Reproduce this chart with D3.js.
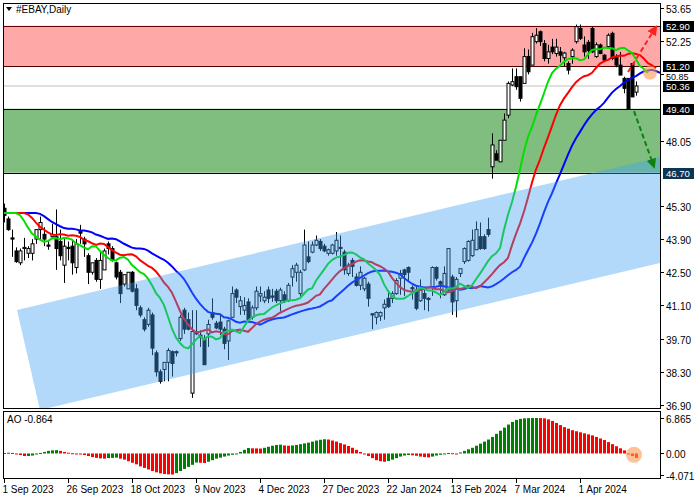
<!DOCTYPE html>
<html><head><meta charset="utf-8">
<script src="https://cdn.jsdelivr.net/npm/d3@7"></script>
<style>body{margin:0;background:#fff}svg{display:block}text{font-family:"Liberation Sans",Arial,sans-serif}</style>
</head><body><svg id="c" width="700" height="500"></svg>
<script>
// OHLC per daily bar (1 Sep 2023 .. 19 Apr 2024)
const opens = [45.2,44.75,43.95,43.4,42.9,43.5,43.3,43.3,43.9,44.3,44.1,43.65,44.0,44.0,43.8,42.8,43.55,43.6,42.7,44.25,43.9,43.2,42.5,43.0,42.2,42.6,43.7,43.5,42.9,42.5,42.0,41.8,42.5,41.8,41.0,40.5,40.3,40.7,39.1,38.3,38.4,38.7,39.15,39.15,39.7,40.9,40.5,37.4,39.95,39.85,39.7,39.9,40.8,40.35,40.4,40.1,39.6,40.6,41.75,41.05,40.9,41.25,40.6,41.0,41.5,41.3,41.75,41.5,41.7,41.3,41.55,41.3,42.3,42.5,41.6,42.6,43.15,43.35,43.65,43.8,43.6,43.3,43.3,43.4,43.55,43.35,42.45,43.0,42.3,41.95,41.8,42.0,40.75,40.6,40.65,41.0,41.4,41.4,41.6,42.25,42.6,42.7,41.85,41.75,41.3,41.6,41.4,41.9,42.7,42.1,41.55,41.75,42.3,41.3,42.45,42.95,43.0,43.2,43.45,44.0,44.0,44.3,46.95,47.5,47.16,48.07,49.13,50.4,50.75,50.75,50.47,51.6,51.24,52.23,52.65,52.15,51.52,52.0,51.73,51.8,51.55,51.31,51.6,52.23,52.79,52.09,52.2,52.79,51.6,52.09,51.66,52.02,52.58,51.6,51.24,50.68,50.68,51.31,50.1];
const highs = [45.4,44.85,44.3,43.55,43.5,43.95,43.6,43.9,44.2,44.85,44.4,43.85,44.55,45.15,44.3,43.95,43.8,43.9,43.9,44.5,44.0,43.3,42.65,43.1,43.4,43.5,43.8,43.6,42.95,42.6,42.2,42.0,42.55,42.0,41.1,40.6,41.0,40.8,39.2,38.4,38.6,39.3,39.2,39.2,40.7,41.0,40.8,40.9,40.9,40.05,39.85,40.5,41.4,40.45,40.7,40.2,40.5,41.9,41.82,41.5,41.45,41.4,41.1,41.9,41.9,41.7,41.9,41.8,41.8,41.85,41.7,42.05,42.8,42.9,42.6,44.3,43.8,43.8,44.05,43.9,43.7,43.5,43.7,44.2,44.05,43.45,42.9,43.1,42.45,42.75,42.3,42.1,40.75,40.85,40.85,41.35,41.75,41.7,42.25,42.6,42.65,42.75,41.95,41.9,42.2,41.75,41.45,42.75,42.75,42.15,42.75,43.5,42.4,42.3,42.6,43.55,43.85,44.3,44.65,44.6,44.1,44.8,48.36,47.65,48.07,49.2,50.55,51.1,51.1,50.75,51.95,51.9,52.6,52.8,52.7,52.3,52.1,52.35,52.35,52.0,51.8,51.4,51.95,52.95,52.95,52.45,52.3,52.85,52.2,52.15,51.7,52.58,52.65,51.7,51.8,50.75,50.68,51.31,50.55];
const lows = [44.6,44.25,43.15,42.9,42.8,43.0,43.1,43.0,43.7,43.9,43.6,43.45,43.9,42.6,43.0,42.05,43.0,42.4,42.45,43.7,43.15,42.0,42.4,42.1,41.8,42.6,43.25,42.95,42.2,41.2,41.9,41.8,41.65,40.9,40.6,40.0,40.2,39.0,38.1,37.8,37.9,37.9,38.1,38.95,39.6,39.9,40.05,37.2,39.85,39.35,38.6,39.35,40.5,40.1,39.85,39.25,38.8,40.6,41.2,40.7,40.7,40.4,40.5,40.9,41.25,41.2,41.2,41.25,41.2,40.85,41.2,41.25,41.9,42.1,41.4,42.55,42.88,43.3,43.6,43.4,43.35,43.2,43.25,43.2,42.75,42.4,42.35,42.3,41.9,41.75,41.7,41.05,40.1,40.3,40.45,40.5,41.0,41.2,41.55,41.55,41.5,42.1,41.35,40.9,41.25,40.9,40.85,41.5,42.15,41.4,41.5,41.7,40.7,40.6,42.3,42.85,42.95,43.15,43.45,43.45,43.45,44.0,46.45,47.23,47.16,48.07,49.0,50.35,50.2,49.7,50.47,50.85,51.24,52.15,52.05,51.4,51.3,51.7,51.6,51.35,51.2,50.85,51.3,52.15,52.3,51.6,51.5,51.75,51.55,51.7,51.4,51.95,51.45,51.15,50.85,50.05,49.4,49.89,49.95];
const closes = [44.9,44.3,43.9,42.95,43.4,43.55,43.5,43.7,44.3,44.6,43.9,43.6,44.1,43.5,43.2,43.6,43.5,42.9,43.7,44.15,43.7,42.5,42.9,42.2,43.0,43.4,43.5,43.0,42.3,41.6,42.4,42.5,41.7,41.1,40.7,40.1,40.9,39.3,38.3,37.9,38.7,39.2,38.65,39.1,40.6,40.1,40.1,40.0,39.9,39.75,38.6,40.3,40.6,40.15,40.1,39.5,40.45,41.6,41.45,41.3,41.1,40.5,41.0,41.7,41.6,41.45,41.4,41.45,41.3,41.75,41.3,41.95,42.65,42.8,42.5,43.65,42.95,43.65,43.85,43.5,43.4,43.45,43.65,43.85,43.5,42.6,42.8,42.75,41.95,42.5,42.25,41.4,40.7,40.8,40.8,41.15,41.05,41.6,42.15,42.45,42.4,42.5,41.8,40.98,41.75,41.4,41.35,42.7,42.25,42.0,42.45,43.5,41.25,42.2,42.65,43.5,43.8,43.85,44.3,43.5,43.5,44.1,47.87,47.23,48.07,48.92,50.47,50.54,50.33,49.84,51.6,50.96,52.44,52.5,52.23,51.52,51.8,51.8,52.0,51.66,51.75,51.03,51.87,52.86,52.37,51.8,51.85,51.8,52.1,51.73,51.45,52.5,51.52,51.24,50.82,50.26,49.4,49.9,50.36];
const aoValues = [0.1,0.15,0.1,-0.1,-0.3,-0.5,-0.5,-0.4,-0.2,0.1,0.3,0.5,0.6,0.65,0.5,0.3,0.15,0.05,-0.1,-0.2,-0.3,-0.5,-0.7,-0.85,-0.95,-1.0,-0.9,-0.85,-0.8,-1.0,-1.2,-1.5,-1.8,-2.1,-2.5,-2.8,-3.1,-3.4,-3.65,-3.85,-3.98,-4.05,-4.071,-3.8,-3.4,-3.0,-2.6,-2.2,-1.75,-1.8,-1.85,-1.6,-1.3,-1.0,-0.8,-0.6,-0.4,-0.25,-0.1,0.3,0.7,1.05,1.0,0.98,0.95,1.1,1.3,1.5,1.65,1.7,1.55,1.5,1.55,1.65,1.8,1.95,2.1,2.3,2.5,2.65,2.75,2.7,2.5,2.3,2.0,1.75,1.45,1.1,0.7,0.3,-0.1,-0.5,-0.9,-1.3,-1.5,-1.6,-1.45,-1.2,-0.9,-0.6,-0.4,-0.3,-0.35,-0.45,-0.6,-0.7,-0.75,-0.6,-0.4,-0.25,-0.1,0.1,0.05,-0.1,0.2,0.5,0.8,1.1,1.5,1.9,2.3,2.7,3.2,3.8,4.4,5.0,5.6,6.1,6.5,6.7,6.8,6.84,6.86,6.865,6.85,6.8,6.6,6.3,5.9,5.5,5.1,4.8,4.5,4.3,4.1,3.9,3.7,3.5,3.2,2.9,2.6,2.2,1.8,1.4,1.0,0.6,-0.2,-0.5,-0.864];
const dateTicks = [[0,"1 Sep 2023"],[16,"26 Sep 2023"],[32,"18 Oct 2023"],[48,"9 Nov 2023"],[64,"4 Dec 2023"],[80,"27 Dec 2023"],[96,"22 Jan 2024"],[112,"13 Feb 2024"],[128,"7 Mar 2024"],[144,"1 Apr 2024"]];
const priceTicks = [53.65,52.25,50.85,48.05,45.30,43.90,42.50,41.10,39.70,38.30,36.90];
const levelTicks = [52.90,51.20,50.36,49.40,46.70];
const aoTicks = [6.865,0.00,-4.071];
const resistZone = [52.90,51.20];
const supportZone = [49.40,46.70];
const channel = [[3.25,40.91],[170,47.6],[170,43.13],[9,36.69]];

const svg = d3.select("#c");
const N = closes.length;
const L=3, R=660, T=3, B=408, AT=411, AB=478;
const x = d3.scaleLinear().domain([0,1]).range([4,8]);
const y = d3.scaleLinear().domain([36.90,53.65]).range([405,8]);
const ya = d3.scaleLinear().domain([-4.071,6.865]).range([474.5,418]);

svg.append("defs").append("clipPath").attr("id","cp").append("rect").attr("x",L).attr("y",T).attr("width",R-L).attr("height",B-T);
svg.append("defs").append("clipPath").attr("id","ca").append("rect").attr("x",L).attr("y",AT).attr("width",R-L).attr("height",AB-AT);
const g = svg.append("g").attr("clip-path","url(#cp)");

// zones
g.append("rect").attr("x",L).attr("width",R-L).attr("y",y(resistZone[0])).attr("height",y(resistZone[1])-y(resistZone[0])).attr("fill","#ffa8a8");
g.append("rect").attr("x",L).attr("width",R-L).attr("y",y(supportZone[0])).attr("height",y(supportZone[1])-y(supportZone[0])).attr("fill","#80be80");
g.append("line").attr("x1",L).attr("x2",R).attr("y1",y(50.36)).attr("y2",y(50.36)).attr("stroke","#c0c0c0");
[[52.90,"#600000"],[51.20,"#500000"],[49.40,"#000"],[46.70,"#000"]].forEach(([v,c])=>g.append("line").attr("x1",L).attr("x2",R).attr("y1",Math.round(y(v))+.5).attr("y2",Math.round(y(v))+.5).attr("stroke",c));

// candles
const cg = g.append("g");
for(let i=0;i<N;i++){
  const xi=Math.round(x(i))+.5, o=opens[i], c=closes[i];
  cg.append("line").attr("x1",xi).attr("x2",xi).attr("y1",y(highs[i])).attr("y2",y(lows[i])).attr("stroke","#000");
  const top=y(Math.max(o,c)), h=Math.max(1,Math.abs(y(o)-y(c)));
  cg.append("rect").attr("x",xi-1.5).attr("width",3).attr("y",top).attr("height",h)
    .attr("fill",c>=o?"#fff":"#000").attr("stroke","#000").attr("stroke-width",1);
}

// alligator (SMMA of median price, shifted)
const med = d3.range(N).map(i=>(highs[i]+lows[i])/2);
function smma(p){const r=[];let s=med[0];for(let i=0;i<N;i++){s=i===0?med[0]:(s*(p-1)+med[i])/p;r.push(s);}return r;}
[[13,8,"#0000ff"],[8,5,"#ff0000"],[5,3,"#00e000"]].forEach(([p,sh,col])=>{
  const s=smma(p);
  const pts=d3.range(N+sh).map(j=>[x(j),y(s[Math.max(0,j-sh)])]);
  g.append("path").attr("d",d3.line()(pts)).attr("fill","none").attr("stroke",col).attr("stroke-width",2);
});

// channel overlay
g.append("path").attr("d",d3.line()(channel.map(d=>[x(d[0]),y(d[1])]))+"Z").attr("fill","#3ea0f2").attr("opacity",0.4);

// annotations
g.append("circle").attr("cx",x(161.5)).attr("cy",y(50.92)).attr("r",7).attr("fill","#ff9a50").attr("opacity",0.6);
const defs=svg.append("defs");
[["ar","#ff2020"],["ag","#108010"]].forEach(([id,c])=>defs.append("marker").attr("id",id).attr("viewBox","0 0 10 10").attr("refX",8).attr("refY",5).attr("markerWidth",5).attr("markerHeight",5).attr("orient","auto").append("path").attr("d","M0,0L10,5L0,10Z").attr("fill",c));
svg.append("line").attr("x1",x(156)).attr("y1",y(50.95)).attr("x2",x(163)).attr("y2",y(52.85)).attr("stroke","#ff2020").attr("stroke-width",2).attr("stroke-dasharray","5,3").attr("marker-end","url(#ar)");
svg.append("line").attr("x1",x(157.5)).attr("y1",y(49.3)).attr("x2",x(162.5)).attr("y2",y(46.95)).attr("stroke","#108010").attr("stroke-width",2).attr("stroke-dasharray","5,3").attr("marker-end","url(#ag)");

// AO
const ag=svg.append("g").attr("clip-path","url(#ca)");
aoValues.forEach((v,i)=>{
  const up = i===0 || v>=aoValues[i-1];
  ag.append("rect").attr("x",Math.round(x(i))-1).attr("width",3).attr("y",Math.min(ya(v),ya(0))).attr("height",Math.max(1,Math.abs(ya(v)-ya(0)))).attr("fill",up?"#008000":"#ff0000");
});
ag.append("circle").attr("cx",x(157.5)).attr("cy",ya(-0.25)).attr("r",8).attr("fill","#ff9a50").attr("opacity",0.6);

// frames
svg.append("rect").attr("x",L+.5).attr("y",T+.5).attr("width",R-L).attr("height",B-T).attr("fill","none").attr("stroke","#000");
svg.append("rect").attr("x",L+.5).attr("y",AT+.5).attr("width",R-L).attr("height",AB-AT).attr("fill","none").attr("stroke","#000");

// price axis
priceTicks.forEach(v=>{
  const yy=Math.round(y(v))+.5;
  svg.append("line").attr("x1",R).attr("x2",R+4).attr("y1",yy).attr("y2",yy).attr("stroke","#000");
  svg.append("text").attr("x",666).attr("y",yy+(v===50.85?5:4)).attr("font-size",v===50.85?9:10).text(v.toFixed(2));
});
levelTicks.forEach(v=>{
  const yy=Math.round(y(v))+.5;
  svg.append("rect").attr("x",663).attr("y",yy-5.5).attr("width",31).attr("height",11).attr("fill",v===46.70?"#0d3554":"#000");
  svg.append("text").attr("x",666).attr("y",yy+3.5).attr("font-size",9.5).attr("fill","#fff").text(v.toFixed(2));
});
aoTicks.forEach(v=>{
  const yy=Math.round(ya(v))+.5;
  svg.append("line").attr("x1",R).attr("x2",R+4).attr("y1",yy).attr("y2",yy).attr("stroke","#000");
  svg.append("text").attr("x",666).attr("y",yy+4).attr("font-size",10).text(v.toFixed(v===0?2:3));
});
// date axis
dateTicks.forEach(([i,t])=>{
  const xx=Math.round(x(i))+.5;
  svg.append("line").attr("x1",xx).attr("x2",xx).attr("y1",AB).attr("y2",AB+5).attr("stroke","#000");
  svg.append("text").attr("x",xx-2).attr("y",493).attr("font-size",10).text(t);
});
// titles
svg.append("path").attr("d","M6,7L12,7L9,11Z").attr("fill","#000");
svg.append("text").attr("x",16).attr("y",13).attr("font-size",10).text("#EBAY,Daily");
svg.append("text").attr("x",7).attr("y",423).attr("font-size",10).text("AO -0.864");
</script></body></html>
